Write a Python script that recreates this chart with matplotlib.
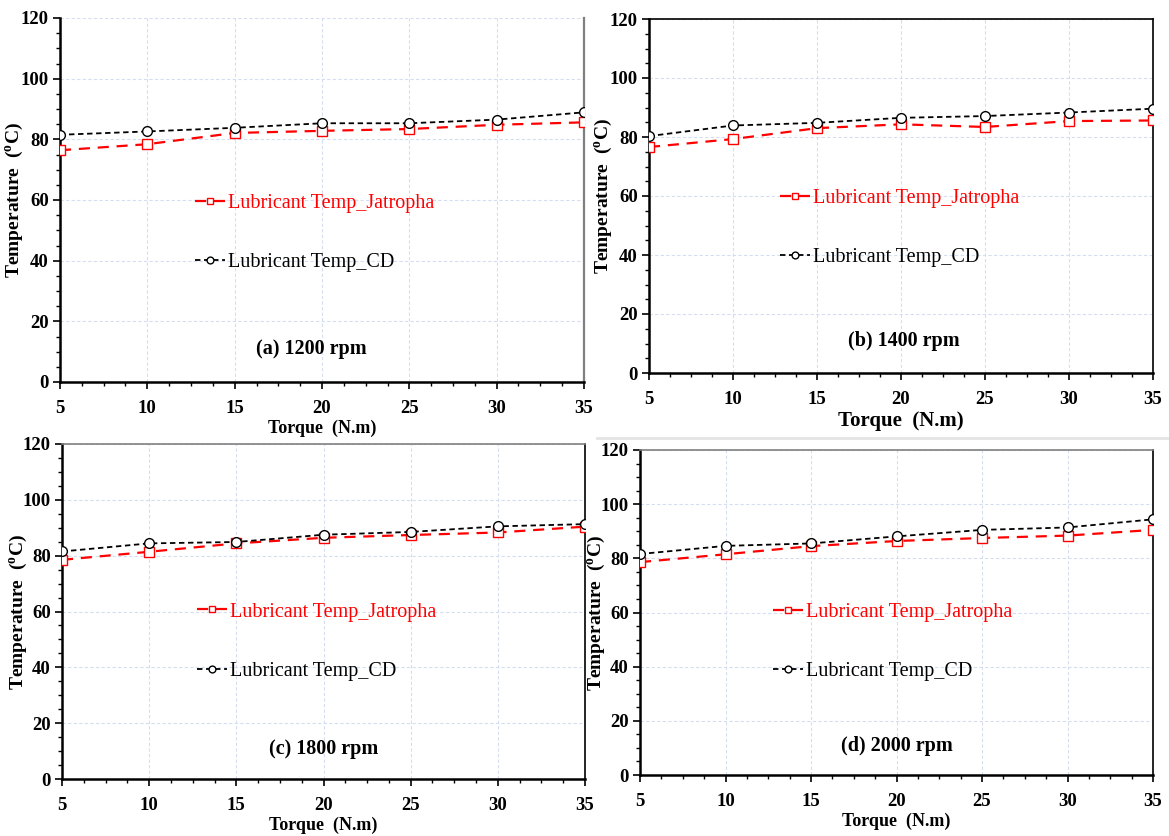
import matplotlib
matplotlib.use("Agg")
import matplotlib.pyplot as plt
from matplotlib.lines import Line2D
from matplotlib.ticker import MultipleLocator

plt.rcParams['font.family'] = ['Liberation Serif', 'DejaVu Serif']
plt.rcParams['mathtext.fontset'] = 'custom'
plt.rcParams['mathtext.rm'] = 'Liberation Serif'
plt.rcParams['mathtext.bf'] = 'Liberation Serif:bold'

torque = [5, 10, 15, 20, 25, 30, 35]

jatropha_1200 = [76.4, 78.4, 82.1, 82.8, 83.4, 84.8, 85.6]
cd_1200 = [81.5, 82.6, 83.8, 85.3, 85.3, 86.5, 88.9]

jatropha_1400 = [76.6, 79.3, 83.0, 84.3, 83.4, 85.4, 85.6]
cd_1400 = [80.3, 83.9, 84.8, 86.5, 87.1, 88.3, 89.6]

jatropha_1800 = [78.5, 81.4, 84.4, 86.4, 87.4, 88.3, 90.4]
cd_1800 = [81.5, 84.4, 84.9, 87.5, 88.5, 90.5, 91.3]

jatropha_2000 = [78.6, 81.5, 84.5, 86.4, 87.5, 88.4, 90.5]
cd_2000 = [81.6, 84.6, 85.5, 88.1, 90.5, 91.4, 94.4]

panel_titles = ['(a) 1200 rpm', '(b) 1400 rpm', '(c) 1800 rpm', '(d) 2000 rpm']
label_jat = 'Lubricant Temp_Jatropha'
label_cd = 'Lubricant Temp_CD'
xlabel = 'Torque  (N.m)'
ylabel = r'Temperature  ($^{\mathbf{o}}$C)'

W, H = 1169, 836
fig = plt.figure(figsize=(W / 100, H / 100), dpi=100)

# light separator line seen in the reference between right-hand panels
fig.add_artist(Line2D([597 / W, 1.0], [(H - 438) / H, (H - 438) / H],
                      transform=fig.transFigure, color='#e4e4e4', linewidth=2))

# pixel boxes: left, right, top, bottom
boxes = [(60, 584, 18, 382), (649, 1153, 19, 373), (62, 585, 444, 779), (640, 1153, 450, 775)]
# spine styles (top color, right color)
spine_styles = [(None, '#7f7f7f'), ('black', 'black'), ('#808080', 'black'), ('#808080', 'black')]
ylabel_x = [-0.065, -0.067, -0.061, -0.063]
title_x = [0.48, 0.505, 0.50, 0.50]
xlabel_size = [13, 15, 13, 13]

data = [(jatropha_1200, cd_1200), (jatropha_1400, cd_1400),
        (jatropha_1800, cd_1800), (jatropha_2000, cd_2000)]

for i, ((l, r, t, b), (jat, cd)) in enumerate(zip(boxes, data)):
    ax = fig.add_axes([l / W, (H - b) / H, (r - l) / W, (b - t) / H])
    ax.plot(torque, jat, color='red', linestyle=(0, (5, 3.5)), linewidth=1.6,
            marker='s', markersize=7, markerfacecolor='white', markeredgecolor='red',
            markeredgewidth=1.0, label=label_jat, zorder=3)
    ax.plot(torque, cd, color='black', linestyle=(0, (3, 2)), linewidth=1.3,
            marker='o', markersize=7, markerfacecolor='white', markeredgecolor='black',
            markeredgewidth=1.0, label=label_cd, zorder=4)
    ax.set_xlim(5, 35)
    ax.set_ylim(0, 120)
    ax.xaxis.set_major_locator(MultipleLocator(5))
    ax.xaxis.set_minor_locator(MultipleLocator(1.25))
    ax.yaxis.set_major_locator(MultipleLocator(20))
    ax.yaxis.set_minor_locator(MultipleLocator(5))
    ax.grid(True, which='major', color='#d5def0', linestyle=(0, (3, 2)), linewidth=0.8)
    ax.set_axisbelow(True)
    ax.tick_params(axis='both', which='major', direction='out', length=5, width=1.2,
                   labelsize=13.5, pad=3)
    ax.tick_params(axis='both', which='minor', direction='out', length=3, width=1.0)
    ax.tick_params(axis='x', pad=8)
    for lab in ax.get_xticklabels() + ax.get_yticklabels():
        lab.set_fontweight('bold')
    ax.spines['left'].set_linewidth(1.8)
    ax.spines['bottom'].set_linewidth(1.8)
    top_c, right_c = spine_styles[i]
    if top_c is None:
        ax.spines['top'].set_visible(False)
    else:
        ax.spines['top'].set_color(top_c)
        ax.spines['top'].set_linewidth(1.2)
    ax.spines['right'].set_color(right_c)
    ax.spines['right'].set_linewidth(1.6 if right_c != 'black' else 1.2)

    ax.set_xlabel(xlabel, fontsize=xlabel_size[i], fontweight='bold', labelpad=2)
    ax.set_ylabel(ylabel, fontsize=14, fontweight='bold')
    ax.yaxis.set_label_coords(ylabel_x[i], 0.5)

    leg = ax.legend(loc='center left', bbox_to_anchor=(0.223, 0.41), frameon=False,
                    fontsize=14.5, handlelength=1.5, handletextpad=0.15,
                    labelspacing=2.0, markerscale=0.7)
    for txt, c in zip(leg.get_texts(), ['red', 'black']):
        txt.set_color(c)

    ax.text(title_x[i], 0.09, panel_titles[i], transform=ax.transAxes, ha='center',
            va='center', fontsize=14.5, fontweight='bold')

fig.savefig('out.png', dpi=100)
